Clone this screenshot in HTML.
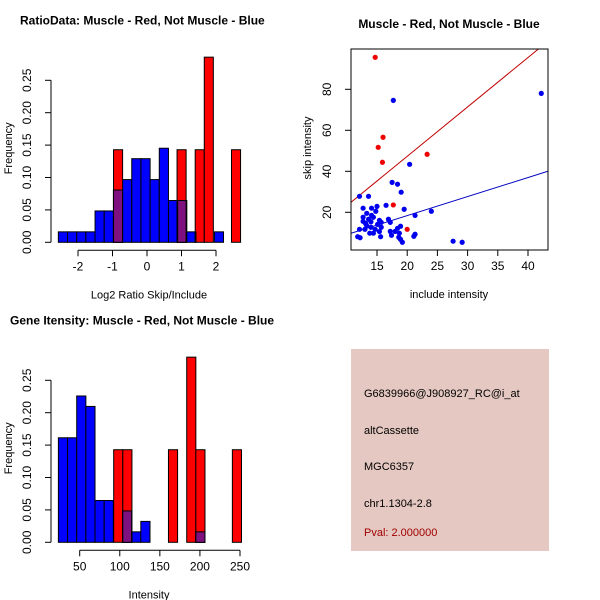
<!DOCTYPE html>
<html><head><meta charset="utf-8"><style>
body{margin:0;background:#fff}
svg{display:block;font-family:"Liberation Sans",sans-serif}
</style></head><body>
<svg id="s" width="600" height="600" viewBox="0 0 600 600">
<rect width="600" height="600" fill="#fff"/>
<g>
<rect x="351" y="349" width="198" height="202" fill="#e5c8c1"/>
<text x="364" y="397" font-size="11">G6839966@J908927_RC@i_at</text>
<text x="364" y="434" font-size="11">altCassette</text>
<text x="364" y="470" font-size="11">MGC6357</text>
<text x="364" y="507" font-size="11">chr1.1304-2.8</text>
<text x="364" y="536" font-size="11" fill="#a00000">Pval: 2.000000</text>
</g>
</svg>
<script>
// ---- Ratio histogram data ----
const ratioBlueStart=-2.57, ratioBlueWidth=0.266;
const ratioBlue=[1,1,1,1,3,3,5,6,8,8,6,9,4,4,1,0,0,1].map(c=>c/62);
const ratioRedStart=-0.97, ratioRedWidth=0.263;
const ratioRed=[1,0,0,0,0,0,0,1,0,1,2,0,0,1].map(c=>c/7);
const ratioXTicks=[-2,-1,0,1,2];
const freqTicks=[0,0.05,0.10,0.15,0.20,0.25];
const freqTickLabels=["0.00","0.05","0.10","0.15","0.20","0.25"];
// ---- Intensity histogram data ----
const intBlueStart=23.4, intBlueWidth=11.43;
const intBlue=[10,10,14,13,4,4,0,3,1,2,0,0,0,0,0,1].map(c=>c/62);
const intRedStart=92.4, intRedWidth=11.39;
const intRed=[1,1,0,0,0,0,1,0,2,1,0,0,0,1].map(c=>c/7);
const intXTicks=[50,100,150,200,250];
// ---- Scatter data ----
const redX=[14.7,16.0,15.2,15.9,23.3,17.7,20.0];
const redY=[95.6,56.6,51.7,44.4,48.3,23.6,11.7];
const blueX=[17.7,42.2,20.4,12.1,13.6,17.5,18.4,19.0,16.5,15.0,14.1,12.7,14.8,19.5,21.3,24.0,27.6,29.1,13.3,14.1,12.7,13.6,12.7,14.4,15.4,15.7,15.1,16.9,17.2,13.3,14.0,15.7,14.7,15.4,14.4,15.6,13.8,12.1,13.0,11.8,12.2,17.2,17.4,18.4,18.9,18.7,18.6,18.9,19.2,21.3,21.1,18.0,13.1,14.0];
const blueY=[74.6,78.0,43.4,27.8,27.8,34.6,33.7,29.8,23.4,22.9,22.0,22.0,20.5,21.5,18.5,20.5,5.9,5.4,19.5,18.5,17.6,16.6,15.6,17.6,16.1,15.1,14.1,16.6,15.1,13.5,12.7,12.7,11.7,10.6,9.8,8.1,9.8,11.7,11.7,8.1,7.6,10.7,8.8,12.2,13.2,9.8,7.8,6.8,5.4,9.3,8.3,10.7,14.6,15.4];
const scXTicks=[15,20,25,30,35,40];
const scYTicks=[20,40,60,80];
const redFit=[-0.9,2.41];   // intercept, slope
const blueFit=[-0.17,0.928];

const NS="http://www.w3.org/2000/svg", svg=document.getElementById('s');
function el(t,a,p){const e=document.createElementNS(NS,t);for(const k in a)e.setAttribute(k,a[k]);(p||svg).appendChild(e);return e;}
function txt(x,y,s,a,p){const e=el('text',Object.assign({x:x,y:y,'font-size':12,'text-anchor':'middle'},a||{}),p);e.textContent=s;return e;}

function hist(opt){
  const g=el('g',{});
  
  
  const X=v=>opt.x0+(v-opt.xv0)*opt.kx, Y=v=>opt.y0-v*opt.ky;
  const bars=(vals,start,w,fill,nm)=>vals.forEach((v,i)=>{if(v<=0)return;
    const r=el('rect',{x:X(start+i*w),y:Y(v),width:w*opt.kx,height:v*opt.ky,fill:fill,stroke:'#000','stroke-width':1},g);
    
    });
  bars(opt.blue,opt.bs,opt.bw,'#0000ff','blue-bar');
  bars(opt.red,opt.rs,opt.rw,'#ff0000','red-bar');
  opt.red.forEach((rv,i)=>{if(rv<=0)return;const a=opt.rs+i*opt.rw,b=a+opt.rw;
    opt.blue.forEach((bv,j)=>{if(bv<=0)return;const c=opt.bs+j*opt.bw,d=c+opt.bw;
      const lo=Math.max(a,c),hi=Math.min(b,d);if(hi-lo<=0.001)return;const h=Math.min(rv,bv);
      const r=el('rect',{x:X(lo),y:Y(h),width:(hi-lo)*opt.kx,height:h*opt.ky,fill:'#7f107f',stroke:'#000','stroke-width':1},g);
      
      });});
  const ya=el('g',{},g);
  
  
  el('line',{x1:opt.yax,x2:opt.yax,y1:Y(0),y2:Y(0.25),stroke:'#000'},ya);
  freqTicks.forEach((t,i)=>{el('line',{x1:opt.yax,x2:opt.yax-6,y1:Y(t),y2:Y(t),stroke:'#000'},ya);
    txt(opt.yax-20,Y(t),freqTickLabels[i],{transform:`rotate(-90 ${opt.yax-20} ${Y(t)})`},ya);});
  const yl=txt(12,opt.y0-94,'Frequency',{'font-size':11,transform:`rotate(-90 12 ${opt.y0-94})`},g);
  
  
  const xa=el('g',{},g);
  
  
  const xt=opt.xticks;
  el('line',{x1:X(xt[0]),x2:X(xt[xt.length-1]),y1:opt.y0+8,y2:opt.y0+8,stroke:'#000'},xa);
  xt.forEach(t=>{el('line',{x1:X(t),x2:X(t),y1:opt.y0+8,y2:opt.y0+14,stroke:'#000'},xa);
    txt(X(t),opt.y0+28,String(t),{},xa);});
  const xl=txt(149,opt.y0+56,opt.xlabel,{'font-size':11},g);
  
  
  const tl=txt(opt.tx,opt.y0-218,opt.title,{'font-weight':'bold','text-anchor':'start'},g);
  
  
}
hist({name:'ratio-histogram',x0:78,xv0:-2,kx:34.5,y0:242.3,ky:648,yax:51,blue:ratioBlue,bs:ratioBlueStart,bw:ratioBlueWidth,red:ratioRed,rs:ratioRedStart,rw:ratioRedWidth,xticks:ratioXTicks,xlabel:'Log2 Ratio Skip/Include',title:'RatioData: Muscle - Red, Not Muscle - Blue',tx:20});
hist({name:'intensity-histogram',x0:79.7,xv0:50,kx:0.8015,y0:542.3,ky:648,yax:51,blue:intBlue,bs:intBlueStart,bw:intBlueWidth,red:intRed,rs:intRedStart,rw:intRedWidth,xticks:intXTicks,xlabel:'Intensity',title:'Gene Itensity: Muscle - Red, Not Muscle - Blue',tx:10});

(function(){
  const g=el('g',{});
  
  
  const X=v=>377+(v-15)*6.04, Y=v=>212.3-(v-20)*2.05;
  const L=351,R=548,T=49,B=250;
  const clip=el('clipPath',{id:'cp'},g);el('rect',{x:L,y:T,width:R-L,height:B-T},clip);
  const pts=el('g',{'clip-path':'url(#cp)'},g);
  [[redFit,'#c00000','red-fit-line'],[blueFit,'#0000c0','blue-fit-line']].forEach(([f,c,n])=>{
    const xa=10.7,xb=43.3;
    const ln=el('line',{x1:X(xa),y1:Y(f[0]+f[1]*xa),x2:X(xb),y2:Y(f[0]+f[1]*xb),stroke:c,'stroke-width':1},pts);
    
    });
  blueX.forEach((x,i)=>{const c=el('circle',{cx:X(x),cy:Y(blueY[i]),r:2.6,fill:'#0000ee'},pts);
    
    });
  redX.forEach((x,i)=>{const c=el('circle',{cx:X(x),cy:Y(redY[i]),r:2.6,fill:'#ee0000'},pts);
    
    });
  el('rect',{x:L,y:T,width:R-L,height:B-T,fill:'none',stroke:'#000'},g);
  scXTicks.forEach(t=>{el('line',{x1:X(t),x2:X(t),y1:B,y2:B+6,stroke:'#000'},g);txt(X(t),B+20,String(t),{},g);});
  scYTicks.forEach(t=>{el('line',{x1:L,x2:L-6,y1:Y(t),y2:Y(t),stroke:'#000'},g);txt(L-20,Y(t),String(t),{transform:`rotate(-90 ${L-20} ${Y(t)})`},g);});
  const xl=txt(449,298,'include intensity',{'font-size':11},g);
  
  
  const yl=txt(311,148,'skip intensity',{'font-size':11,transform:'rotate(-90 311 148)'},g);
  
  
  const tl=txt(449,28,'Muscle - Red, Not Muscle - Blue',{'font-weight':'bold'},g);
  
  
})();
</script>
</body></html>
